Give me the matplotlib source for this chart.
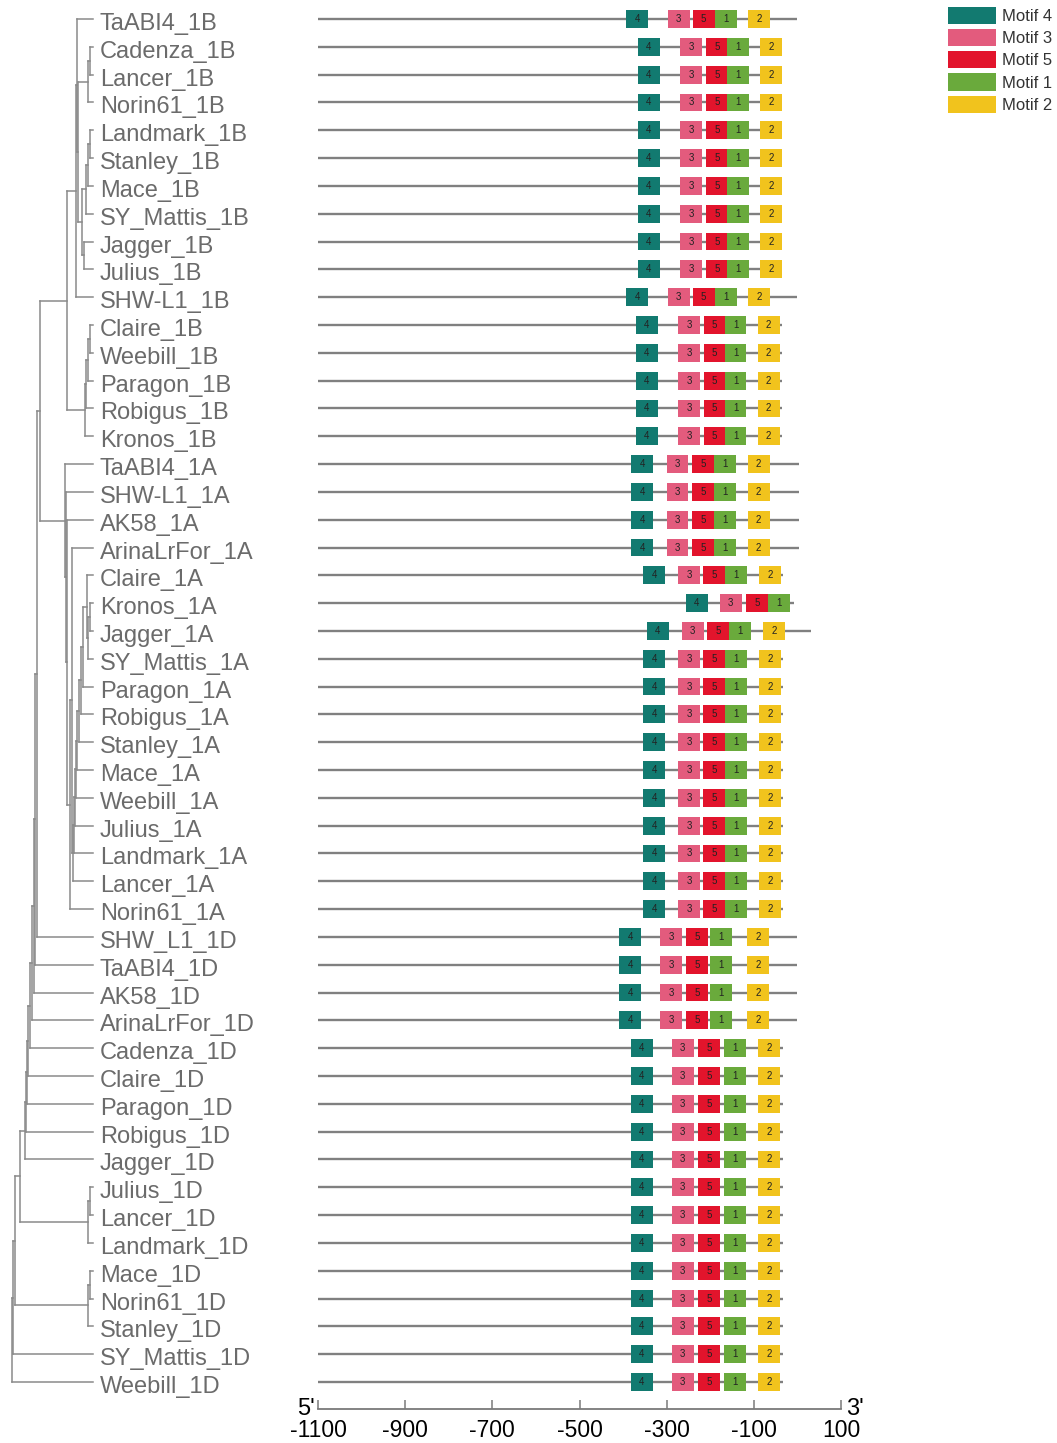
import matplotlib
matplotlib.use("Agg")
import matplotlib.pyplot as plt
from matplotlib.collections import LineCollection
from matplotlib.patches import Rectangle, Patch
from matplotlib.transforms import offset_copy

plt.rcParams["font.family"] = ["Liberation Sans", "DejaVu Sans"]

# ---------------------------------------------------------------- data
GENES = [
    "TaABI4_1B", "Cadenza_1B", "Lancer_1B", "Norin61_1B", "Landmark_1B",
    "Stanley_1B", "Mace_1B", "SY_Mattis_1B", "Jagger_1B", "Julius_1B",
    "SHW-L1_1B", "Claire_1B", "Weebill_1B", "Paragon_1B", "Robigus_1B",
    "Kronos_1B", "TaABI4_1A", "SHW-L1_1A", "AK58_1A", "ArinaLrFor_1A",
    "Claire_1A", "Kronos_1A", "Jagger_1A", "SY_Mattis_1A", "Paragon_1A",
    "Robigus_1A", "Stanley_1A", "Mace_1A", "Weebill_1A", "Julius_1A",
    "Landmark_1A", "Lancer_1A", "Norin61_1A", "SHW_L1_1D", "TaABI4_1D",
    "AK58_1D", "ArinaLrFor_1D", "Cadenza_1D", "Claire_1D", "Paragon_1D",
    "Robigus_1D", "Jagger_1D", "Julius_1D", "Lancer_1D", "Landmark_1D",
    "Mace_1D", "Norin61_1D", "Stanley_1D", "SY_Mattis_1D", "Weebill_1D",
]

# Newick sub-trees (branch lengths in tree units)
NWK_1B_UPPER = ("((TaABI4_1B:16,(((Cadenza_1B:3,Lancer_1B:3):2,Norin61_1B:5):10,"
                "((((Landmark_1B:3,Stanley_1B:3):2,Mace_1B:5):2,SY_Mattis_1B:7):4,"
                "(Jagger_1B:9,Julius_1B:9):2):4):1):1,SHW-L1_1B:17)")
NWK_1B_LOWER = "((((Claire_1B:3,Weebill_1B:3):2,Paragon_1B:5):2,Robigus_1B:7):1,Kronos_1B:8)"
NWK_1A_CORE = ("(((((((((Claire_1A:6,((Kronos_1A:3,Jagger_1A:3):2,SY_Mattis_1A:5):1):4,"
               "Paragon_1A:10):2,Robigus_1A:12):2,Stanley_1A:14):2,Mace_1A:16):1,"
               "Weebill_1A:17):1,Julius_1A:18):1,Landmark_1A:19):1,Lancer_1A:20)")
NWK_1A = ("(TaABI4_1A:28,(SHW-L1_1A:27,(AK58_1A:26,((ArinaLrFor_1A:21,"
          + NWK_1A_CORE + ":1):2,Norin61_1A:23):3):1):1)")
NWK_1D_JLL = "((Julius_1D:3,Lancer_1D:3):2,Landmark_1D:5)"
NWK_1D_MNS = "((Mace_1D:3,Norin61_1D:3):2,Stanley_1D:5)"
# outer ladder: (subtree, its branch length, branch length of the inner node)
SPINE = [
    ("SHW_L1_1D", 56, 3), ("TaABI4_1D", 58, 2), ("AK58_1D", 59, 1),
    ("ArinaLrFor_1D", 61, 2), ("Cadenza_1D", 63, 2), ("Claire_1D", 65, 2),
    ("Paragon_1D", 66, 1), ("Robigus_1D", 67, 1), ("Jagger_1D", 68, 1),
    (NWK_1D_JLL, 68, 5), (NWK_1D_MNS, 73, 5), ("SY_Mattis_1D", 80, 2),
    ("Weebill_1D", 81, 1),
]
B_BRANCHES = (9, 18)     # 1B upper / lower clades
AB_BRANCHES = (27, 25)   # 1B / 1A clades

MOTIF_ORDER = ["4", "3", "5", "1", "2"]
MOTIF_COLORS = {"4": "#127a70", "3": "#e35b7d", "5": "#e2142c",
                "1": "#6aaa3c", "2": "#f1c31d"}
MOTIF_WIDTH = 50

SEQ_START = -1100
SEQ_END = [
    0, -35, -35, -35, -35, -35, -35, -35, -35, -35, 0,
    -35, -35, -35, -35, -35,
    3, 3, 3, 3, -33, -8, 31,
    -33, -33, -33, -33, -33, -33, -33, -33, -33, -33,
    0, 0, 0, 0,
    -33, -33, -33, -33, -33, -33, -33, -33, -33, -33, -33, -33, -33,
]
M4_START = [
    -393, -366, -366, -366, -366, -366, -366, -366, -366, -366, -393,
    -371, -371, -371, -371, -371,
    -381, -381, -381, -381, -354, -256, -345,
    -354, -354, -354, -354, -354, -354, -354, -354, -354, -354,
    -409, -409, -409, -409,
    -382, -382, -382, -382, -382, -382, -382, -382, -382, -382, -382, -382, -382,
]
M3_START = [
    -297, -269, -269, -269, -269, -269, -269, -269, -269, -269, -297,
    -274, -274, -274, -274, -274,
    -300, -300, -300, -300, -274, -178, -265,
    -274, -274, -274, -274, -274, -274, -274, -274, -274, -274,
    -315, -315, -315, -315,
    -288, -288, -288, -288, -288, -288, -288, -288, -288, -288, -288, -288, -288,
]
M5_START = [
    -240, -210, -210, -210, -210, -210, -210, -210, -210, -210, -240,
    -215, -215, -215, -215, -215,
    -242, -242, -242, -242, -217, -118, -207,
    -217, -217, -217, -217, -217, -217, -217, -217, -217, -217,
    -256, -256, -256, -256,
    -228, -228, -228, -228, -228, -228, -228, -228, -228, -228, -228, -228, -228,
]
M1_START = [
    -189, -162, -162, -162, -162, -162, -162, -162, -162, -162, -189,
    -167, -167, -167, -167, -167,
    -192, -192, -192, -192, -166, -67, -157,
    -166, -166, -166, -166, -166, -166, -166, -166, -166, -166,
    -201, -201, -201, -201,
    -168, -168, -168, -168, -168, -168, -168, -168, -168, -168, -168, -168, -168,
]
M2_START = [
    -113, -86, -86, -86, -86, -86, -86, -86, -86, -86, -113,
    -91, -91, -91, -91, -91,
    -114, -114, -114, -114, -88, None, -79,
    -88, -88, -88, -88, -88, -88, -88, -88, -88, -88,
    -116, -116, -116, -116,
    -90, -90, -90, -90, -90, -90, -90, -90, -90, -90, -90, -90, -90,
]
MOTIF_STARTS = {"4": M4_START, "3": M3_START, "5": M5_START,
                "1": M1_START, "2": M2_START}

X_TICKS = [-1100, -900, -700, -500, -300, -100, 100]


# ---------------------------------------------------------------- tree helpers
def pair(a, la, b, lb):
    return f"({a}:{la},{b}:{lb})"


def parse_newick(text):
    pos = 0

    def node():
        nonlocal pos
        children = []
        if text[pos] == "(":
            pos += 1
            children.append(node())
            while text[pos] == ",":
                pos += 1
                children.append(node())
            pos += 1  # ")"
        start = pos
        while pos < len(text) and text[pos] not in ":,();":
            pos += 1
        name = text[start:pos]
        length = 0.0
        if pos < len(text) and text[pos] == ":":
            pos += 1
            start = pos
            while text[pos] not in ",();":
                pos += 1
            length = float(text[start:pos])
        return {"name": name, "length": length, "children": children}

    return node()


def layout(n, parent_x, leaves, segs):
    n["x"] = parent_x + n["length"]
    if not n["children"]:
        n["y"] = len(leaves)
        leaves.append(n["name"])
        return
    for c in n["children"]:
        layout(c, n["x"], leaves, segs)
        segs.append([(n["x"], c["y"]), (c["x"], c["y"])])
    y0, y1 = n["children"][0]["y"], n["children"][-1]["y"]
    n["y"] = (y0 + y1) / 2
    segs.append([(n["x"], y0), (n["x"], y1)])


newick = pair(pair(NWK_1B_UPPER, B_BRANCHES[0], NWK_1B_LOWER, B_BRANCHES[1]),
              AB_BRANCHES[0], NWK_1A, AB_BRANCHES[1])
for sub, sub_len, inner_len in SPINE:
    newick = pair(newick, inner_len, sub, sub_len)
newick += ";"

root = parse_newick(newick)
leaf_order, segments = [], []
layout(root, 0.0, leaf_order, segments)
assert leaf_order == GENES

# ---------------------------------------------------------------- figure
W, H, DPI = 1057, 1443, 100
fig = plt.figure(figsize=(W / DPI, H / DPI), dpi=DPI)
fig.patch.set_facecolor("white")

TOP_PX, AXIS_PX = 5, 1409
ROW0_PX, ROW_STEP_PX = 19, 27.816
r_top = (TOP_PX - ROW0_PX) / ROW_STEP_PX
r_bot = (AXIS_PX - ROW0_PX) / ROW_STEP_PX
ax_bottom = 1 - AXIS_PX / H
ax_height = (AXIS_PX - TOP_PX) / H

# tree panel (1 tree unit = 1 pixel)
ROOT_PX, TREE_PANEL_PX, LABEL_PX = 12, 95, 100
ax_t = fig.add_axes([0, ax_bottom, TREE_PANEL_PX / W, ax_height])
ax_t.set_xlim(-ROOT_PX, TREE_PANEL_PX - ROOT_PX)
ax_t.set_ylim(r_bot, r_top)
ax_t.axis("off")
ax_t.add_collection(LineCollection(segments, colors="#8a8a8a", linewidths=1.1,
                                   capstyle="projecting"))

label_tf = offset_copy(ax_t.transData, fig=fig, x=0, y=-11, units="dots")
for i, name in enumerate(GENES):
    ax_t.text(LABEL_PX - ROOT_PX, i, name, transform=label_tf, fontsize=17,
              color="#6b6b6b", ha="left", va="baseline", clip_on=False)

# motif panel
ax = fig.add_axes([318 / W, ax_bottom, 523 / W, ax_height])
ax.set_xlim(SEQ_START, 100)
ax.set_ylim(r_bot, r_top)

rows = list(range(len(GENES)))
ax.hlines(rows, SEQ_START, SEQ_END, color="#808080", linewidth=1.7, zorder=1)

BOX_H = 0.64
for m in MOTIF_ORDER:
    for r, s in zip(rows, MOTIF_STARTS[m]):
        if s is None:
            continue
        ax.add_patch(Rectangle((s, r - BOX_H / 2), MOTIF_WIDTH, BOX_H,
                               facecolor=MOTIF_COLORS[m], edgecolor="none",
                               zorder=2))
        ax.text(s + MOTIF_WIDTH / 2, r, m, fontsize=7, color="#222222",
                ha="center", va="center", zorder=3)

for side in ("top", "left", "right"):
    ax.spines[side].set_visible(False)
ax.spines["bottom"].set_color("#7a7a7a")
ax.spines["bottom"].set_linewidth(1.3)
ax.set_yticks([])
ax.set_xticks(X_TICKS)
ax.set_xticklabels([str(t) for t in X_TICKS])
ax.tick_params(axis="x", direction="in", length=6.5, width=1.1,
               color="#7a7a7a", labelsize=16.5, labelcolor="black", pad=7)

ax.annotate("5'", xy=(0, 0), xycoords="axes fraction", xytext=(-12, -6),
            textcoords="offset pixels", ha="center", va="baseline",
            fontsize=17, color="black")
ax.annotate("3'", xy=(1, 0), xycoords="axes fraction", xytext=(14, -6),
            textcoords="offset pixels", ha="center", va="baseline",
            fontsize=17, color="black")

# legend
handles = [Patch(facecolor=MOTIF_COLORS[m], edgecolor="none", label=f"Motif {m}")
           for m in MOTIF_ORDER]
fig.legend(handles=handles, loc="upper left", bbox_to_anchor=(948 / W, 1 - 7 / H),
           frameon=False, fontsize=12, labelcolor="#333333", handlelength=2.9,
           handleheight=1.2, labelspacing=0.3, handletextpad=0.35,
           borderpad=0, borderaxespad=0)

fig.savefig("out.png", dpi=DPI, facecolor="white")
